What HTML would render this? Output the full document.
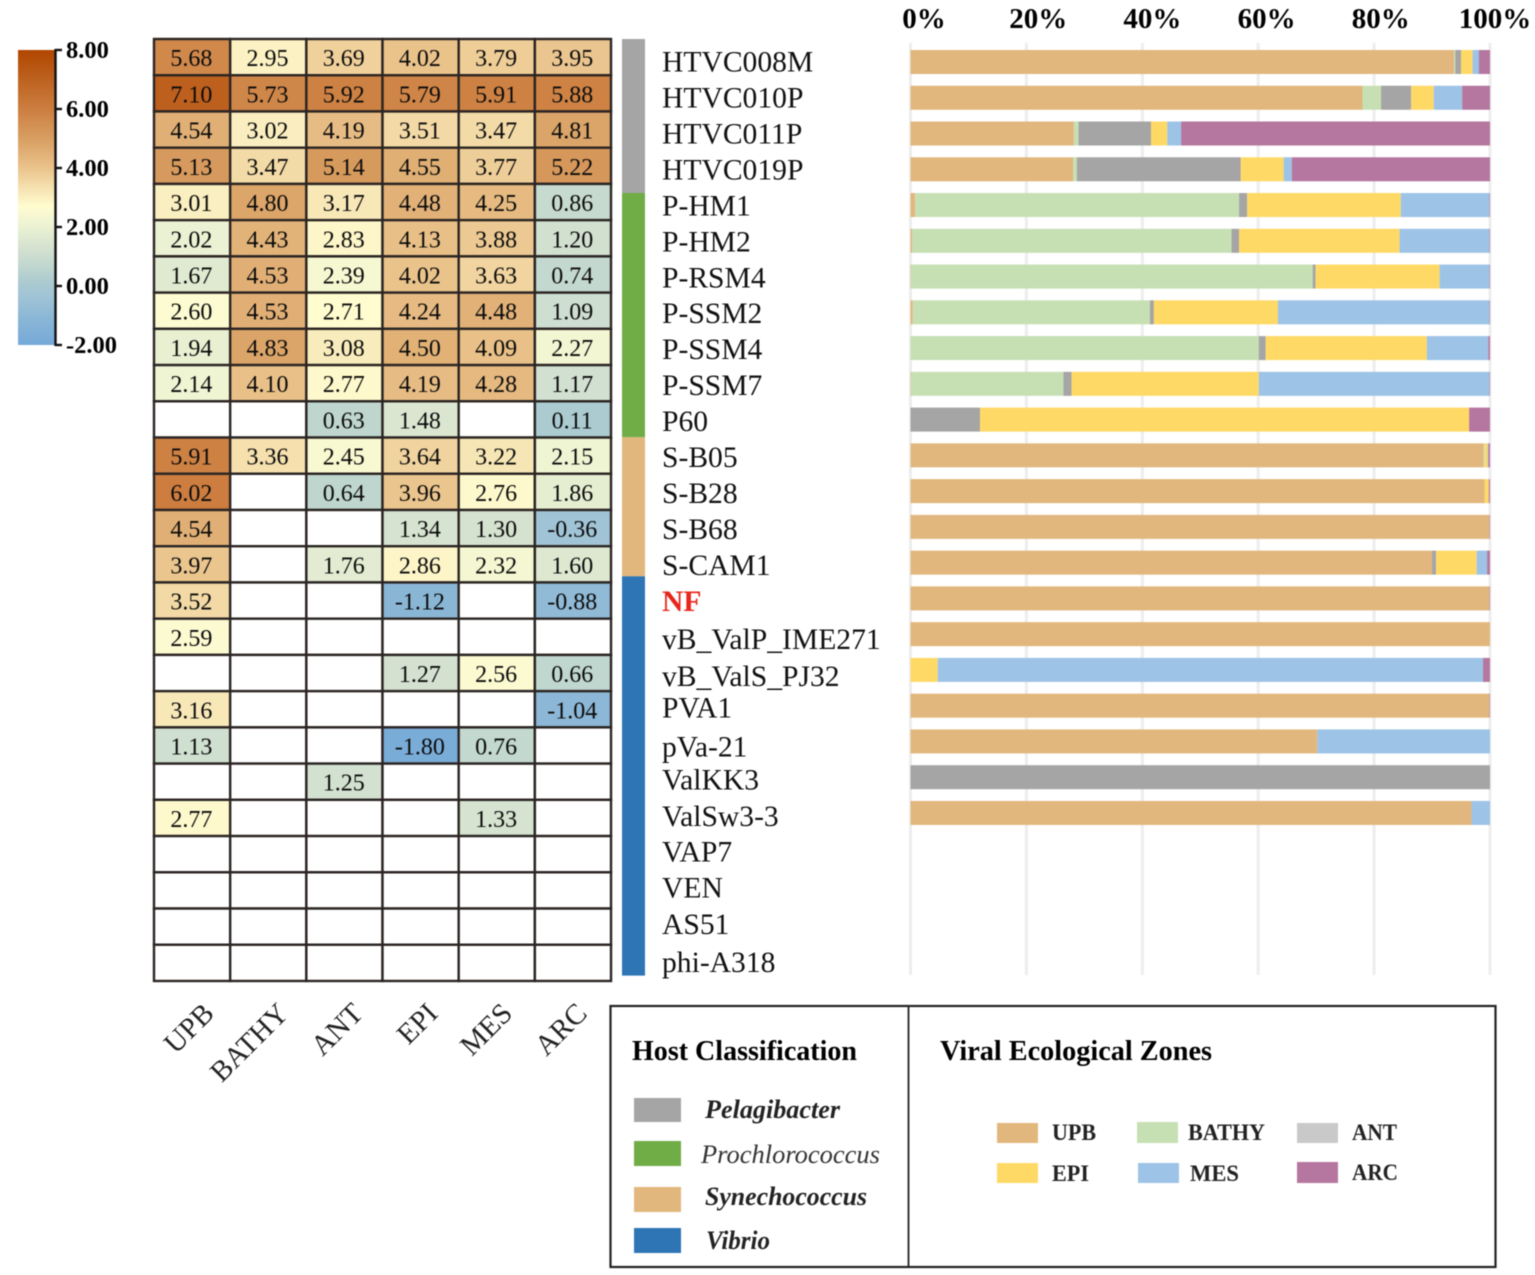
<!DOCTYPE html>
<html lang="en">
<head>
<meta charset="utf-8">
<title>Viral host classification and ecological zones</title>
<style>
html,body{margin:0;padding:0;background:#fff;width:1535px;height:1275px;overflow:hidden}
svg{display:block;font-family:"Liberation Serif",serif;filter:blur(0.4px)}
</style>
</head>
<body>
<svg id="chart" xmlns="http://www.w3.org/2000/svg" width="1535" height="1275" viewBox="0 0 1535 1275">
  <defs>
    <linearGradient id="cbar" x1="0" y1="1" x2="0" y2="0">
      <stop offset="0" stop-color="#75a9d8"/>
      <stop offset="0.088" stop-color="#8ab6d6"/>
      <stop offset="0.164" stop-color="#a0c4d6"/>
      <stop offset="0.211" stop-color="#abcbd0"/>
      <stop offset="0.263" stop-color="#bfd6cf"/>
      <stop offset="0.33" stop-color="#d5e2d0"/>
      <stop offset="0.414" stop-color="#eff4d3"/>
      <stop offset="0.47" stop-color="#fffcd0"/>
      <stop offset="0.536" stop-color="#f5e0ae"/>
      <stop offset="0.596" stop-color="#ebc58e"/>
      <stop offset="0.683" stop-color="#dba468"/>
      <stop offset="0.8" stop-color="#cc7e40"/>
      <stop offset="1" stop-color="#b04600"/>
    </linearGradient>
  </defs>
  <g id="colorbar"></g>
  <g id="heatmap"></g>
  <g id="hostbar"></g>
  <g id="labels"></g>
  <g id="grid"></g>
  <g id="bars"></g>
  <g id="toplabels"></g>

  <g>
    <rect x="610.5" y="1006" width="885" height="261" fill="none" stroke="#222" stroke-width="2.2"/>
    <line x1="908.5" y1="1006" x2="908.5" y2="1267" stroke="#222" stroke-width="1.8"/>
    <text x="632" y="1060" font-size="29" font-weight="bold" textLength="225" lengthAdjust="spacingAndGlyphs">Host Classification</text>
    <text x="940" y="1060" font-size="29" font-weight="bold" textLength="272" lengthAdjust="spacingAndGlyphs">Viral Ecological Zones</text>

    <rect x="634" y="1098" width="47" height="24" fill="#a5a5a5"/>
    <text x="705" y="1118" font-size="26" font-weight="bold" font-style="italic" fill="#222" textLength="135" lengthAdjust="spacingAndGlyphs">Pelagibacter</text>
    <rect x="634" y="1141" width="47" height="25" fill="#70ad47"/>
    <text x="701" y="1163" font-size="26" font-style="italic" fill="#333" textLength="179" lengthAdjust="spacingAndGlyphs">Prochlorococcus</text>
    <rect x="634" y="1187" width="47" height="25" fill="#e2b77d"/>
    <text x="705" y="1205" font-size="26" font-weight="bold" font-style="italic" fill="#222" textLength="162" lengthAdjust="spacingAndGlyphs">Synechococcus</text>
    <rect x="634" y="1228" width="47" height="25" fill="#2e75b6"/>
    <text x="706" y="1249" font-size="26" font-weight="bold" font-style="italic" fill="#222" textLength="64" lengthAdjust="spacingAndGlyphs">Vibrio</text>

    <rect x="997" y="1123" width="41" height="20" fill="#e2b77d"/>
    <text x="1052" y="1140" font-size="23" font-weight="bold" fill="#222" textLength="44" lengthAdjust="spacingAndGlyphs">UPB</text>
    <rect x="1137" y="1122" width="41" height="21" fill="#c6e0b4"/>
    <text x="1188" y="1140" font-size="23" font-weight="bold" fill="#222" textLength="77" lengthAdjust="spacingAndGlyphs">BATHY</text>
    <rect x="1297" y="1123" width="41" height="20" fill="#c9c9c9"/>
    <text x="1352" y="1140" font-size="23" font-weight="bold" fill="#222" textLength="45" lengthAdjust="spacingAndGlyphs">ANT</text>
    <rect x="997" y="1163" width="41" height="20" fill="#ffd966"/>
    <text x="1052" y="1181" font-size="23" font-weight="bold" fill="#222" textLength="37" lengthAdjust="spacingAndGlyphs">EPI</text>
    <rect x="1138" y="1163" width="41" height="20" fill="#9dc3e6"/>
    <text x="1190" y="1181" font-size="23" font-weight="bold" fill="#222" textLength="49" lengthAdjust="spacingAndGlyphs">MES</text>
    <rect x="1297" y="1162" width="41" height="21" fill="#b5769f"/>
    <text x="1352" y="1180" font-size="23" font-weight="bold" fill="#222" textLength="46" lengthAdjust="spacingAndGlyphs">ARC</text>
  </g>
</svg>

<script>
// ---- chart data ----
const categories = ["HTVC008M","HTVC010P","HTVC011P","HTVC019P","P-HM1","P-HM2","P-RSM4","P-SSM2","P-SSM4","P-SSM7","P60","S-B05","S-B28","S-B68","S-CAM1","NF","vB_ValP_IME271","vB_ValS_PJ32","PVA1","pVa-21","ValKK3","ValSw3-3","VAP7","VEN","AS51","phi-A318"];
const zones = ["UPB","BATHY","ANT","EPI","MES","ARC"];
const n = null;

// heatmap values, one array per zone (top to bottom)
const heatUPB   = [5.68,7.10,4.54,5.13,3.01,2.02,1.67,2.60,1.94,2.14,n,5.91,6.02,4.54,3.97,3.52,2.59,n,3.16,1.13,n,2.77,n,n,n,n];
const heatBATHY = [2.95,5.73,3.02,3.47,4.80,4.43,4.53,4.53,4.83,4.10,n,3.36,n,n,n,n,n,n,n,n,n,n,n,n,n,n];
const heatANT   = [3.69,5.92,4.19,5.14,3.17,2.83,2.39,2.71,3.08,2.77,0.63,2.45,0.64,n,1.76,n,n,n,n,n,1.25,n,n,n,n,n];
const heatEPI   = [4.02,5.79,3.51,4.55,4.48,4.13,4.02,4.24,4.50,4.19,1.48,3.64,3.96,1.34,2.86,-1.12,n,1.27,n,-1.80,n,n,n,n,n,n];
const heatMES   = [3.79,5.91,3.47,3.77,4.25,3.88,3.63,4.48,4.09,4.28,n,3.22,2.76,1.30,2.32,n,n,2.56,n,0.76,n,1.33,n,n,n,n];
const heatARC   = [3.95,5.88,4.81,5.22,0.86,1.20,0.74,1.09,2.27,1.17,0.11,2.15,1.86,-0.36,1.60,-0.88,n,0.66,-1.04,n,n,n,n,n,n,n];

// percentage share per zone, one array per zone (top to bottom)
const shareUPB   = [93.8,78,28.2,28.1,0.8,0.3,0.1,0.4,0,0.1,0,98.9,99.1,99.9,90,99.9,100,0,99.9,70.2,0,96.8,0,0,0,0];
const shareBATHY = [0.2,3.2,0.8,0.6,55.9,55.1,69.3,40.9,60.1,26.3,0,0.2,0,0,0,0,0,0,0,0,0,0,0,0,0,0];
const shareANT   = [1,5.2,12.5,28.3,1.4,1.3,0.5,0.7,1.2,1.4,12,0,0,0,0.7,0,0,0,0,0,100,0,0,0,0,0];
const shareEPI   = [2,3.9,2.8,7.4,26.5,27.7,21.4,21.4,27.8,32.3,84.4,0.5,0.7,0,7,0,0,4.7,0,0,0,0,0,0,0,0];
const shareMES   = [1.1,4.9,2.4,1.4,15.3,15.5,8.6,36.5,10.6,39.8,0,0.1,0,0,1.8,0,0,94.1,0,29.8,0,3.2,0,0,0,0];
const shareARC   = [1.9,4.8,53.3,34.2,0.1,0.1,0.1,0.1,0.3,0.1,3.6,0.3,0.2,0.1,0.5,0.1,0,1.2,0.1,0,0,0,0,0,0,0];

const percentTicks = [0,20,40,60,80,100];
const colorTicks = [8,6,4,2,0,-2];

// host groups: number of consecutive viruses per host
const hostNames = ["Pelagibacter","Prochlorococcus","Synechococcus","Vibrio"];
const hostCounts = [4,7,4,11];

// ---- style / layout ----
const SVG = "http://www.w3.org/2000/svg";
const heatSeries = [heatUPB,heatBATHY,heatANT,heatEPI,heatMES,heatARC];
const shareSeries = [shareUPB,shareBATHY,shareANT,shareEPI,shareMES,shareARC];
const zoneColors = ["#e2b77d","#c6e0b4","#a5a5a5","#ffd966","#9dc3e6","#b5769f"];
const hostColors = ["#a5a5a5","#70ad47","#e2b77d","#2e75b6"];
const hostRowHeights = [38.5,34.9,34.75,36.3];
const colorStops = [[-2,[117,169,216]],[-1.12,[138,182,214]],[-0.36,[160,196,214]],[0.11,[171,203,208]],[0.63,[191,214,207]],[1.3,[213,226,208]],[2.14,[239,244,211]],[2.7,[255,252,208]],[3.36,[245,224,174]],[3.96,[235,197,142]],[4.83,[219,164,104]],[6,[204,126,64]],[8,[176,70,0]]];

const heatLeft = 154, heatTop = 39, cellW = 76.17, cellH = 36.23;
const heatX = c => heatLeft + c * cellW;
const heatY = r => heatTop + r * cellH;
const barX = p => 910.5 + p * 5.795;
const barY = r => 50 + r * 35.76;
const labelY = r => 71.5 + r * 35.96;
const columnLabelX = c => 215.5 + c * 74.6;
const percentLabelX = p => 924 + p * 5.71;
const colorY = v => 345 - (v + 2) * 29.5;
const labelNudge = {"vB_ValP_IME271":2.3,"vB_ValS_PJ32":3.1,"PVA1":-1.1,"pVa-21":1.7,"ValKK3":-1,"ValSw3-3":-0.7,"VAP7":-0.9,"VEN":-1.1,"AS51":-0.3,"phi-A318":1.5};

function heatColor(v){
  for(let i=1;i<colorStops.length;i++){
    if(v<=colorStops[i][0]){
      const [a,ca]=colorStops[i-1],[b,cb]=colorStops[i];
      const t=Math.max(0,(v-a)/(b-a));
      return "rgb("+ca.map((x,k)=>Math.round(x+(cb[k]-x)*t)).join(",")+")";
    }
  }
  return "rgb(176,70,0)";
}
function make(tag,attrs,parent,txt){
  const el=document.createElementNS(SVG,tag);
  for(const k in attrs) el.setAttribute(k,attrs[k]);
  if(txt!==undefined) el.textContent=txt;
  parent.appendChild(el);
  return el;
}
const slug = s => s.toLowerCase().replace(/[^a-z0-9]+/g,"-");

// ---- colour scale ----
const gBar=document.getElementById("colorbar");
const cbRect=make("rect",{x:18,y:colorY(8),width:37,height:colorY(-2)-colorY(8),fill:"url(#cbar)"},gBar);


const cbAxis=make("line",{x1:55.5,x2:55.5,y1:colorY(8)-1,y2:colorY(-2)+1,stroke:"#111","stroke-width":2.4},gBar);


colorTicks.forEach(v=>{
  const t=make("line",{x1:55,x2:62,y1:colorY(v),y2:colorY(v),stroke:"#111","stroke-width":2.4},gBar);
  
  
  const l=make("text",{x:66,y:colorY(v)+8,"font-size":24.5,"font-weight":"bold",fill:"#000"},gBar,v.toFixed(2));
  
  
});

// ---- heatmap ----
const gHeat=document.getElementById("heatmap");
categories.forEach((cat,r)=>{
  zones.forEach((z,c)=>{
    const v=heatSeries[c][r];
    const cell=make("rect",{x:heatX(c),y:heatY(r),width:cellW,height:cellH,fill:v===null?"#ffffff":heatColor(v),stroke:"#2b2523","stroke-width":2.4},gHeat);
    
    
    if(v!==null){
      const tx=make("text",{x:heatX(c)+cellW/2-0.7,y:heatY(r)+cellH/2+9,"font-size":24,"text-anchor":"middle",fill:"#0c0c0c"},gHeat,v.toFixed(2));
      
      
    }
  });
});
zones.forEach((z,c)=>{
  const cx=columnLabelX(c);
  const l=make("text",{x:cx,y:1015,"font-size":29,"text-anchor":"end",fill:"#222",transform:"rotate(-45 "+cx+" 1015)"},gHeat,z);
  
  
});

// ---- host strip ----
const gHost=document.getElementById("hostbar");
let hostEdge=heatTop;
hostCounts.forEach((cnt,i)=>{
  const h=cnt*hostRowHeights[i];
  const seg=make("rect",{x:622,y:hostEdge,width:23,height:h,fill:hostColors[i]},gHost);
  
  
  hostEdge+=h;
});

// ---- category labels ----
const gLab=document.getElementById("labels");
categories.forEach((cat,r)=>{
  const y=labelY(r)+(labelNudge[cat]||0);
  const isNF=cat==="NF";
  const l=make("text",{x:662,y:y,"font-size":29.6,fill:isNF?"#e8261c":"#111","font-weight":isNF?"bold":"normal"},gLab,cat);
  
  
});

// ---- gridlines and top axis ----
const gGrid=document.getElementById("grid");
const gTop=document.getElementById("toplabels");
percentTicks.forEach(p=>{
  const g=make("line",{x1:barX(p),x2:barX(p),y1:43,y2:975,stroke:"#ededed","stroke-width":3},gGrid);
  
  
  const l=make("text",{x:percentLabelX(p),y:28,"font-size":29,"font-weight":"bold","text-anchor":"middle",fill:"#000"},gTop,p+"%");
  
  
});

// ---- stacked bars ----
const gBars=document.getElementById("bars");
categories.forEach((cat,r)=>{
  let acc=0;
  zones.forEach((z,c)=>{
    const v=shareSeries[c][r];
    if(v>0){
      const b=make("rect",{x:barX(acc),y:barY(r),width:barX(acc+v)-barX(acc),height:24,fill:zoneColors[c]},gBars);
      
      
      acc+=v;
    }
  });
});
</script>
</body>
</html>
